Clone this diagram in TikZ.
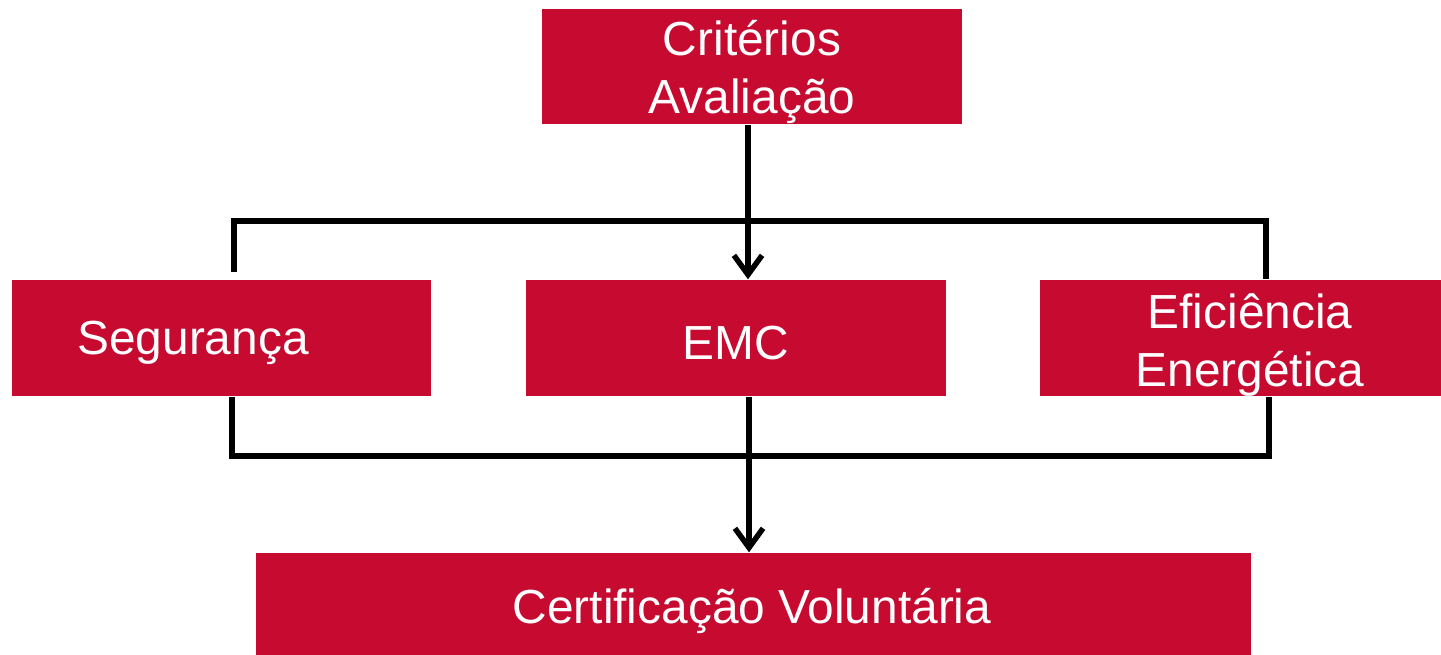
\documentclass[tikz,border=0pt]{standalone}
\usepackage{fontspec}
\setmainfont{Liberation Sans}
\usetikzlibrary{arrows.meta}
\definecolor{crim}{RGB}{198,10,48}
\begin{document}
\begin{tikzpicture}[x=0.01cm,y=-0.01cm,
  box/.style={fill=crim,draw=none,rectangle,inner sep=0pt},
  lbl/.style={text=white,font=\fontsize{13.6}{16.3}\selectfont,align=center,inner sep=0pt},
  conn/.style={line width=1.55pt,line join=miter},
  arr/.style={conn,-{Straight Barb[length=5.5pt,width=8pt,line width=1.55pt]}}]
\useasboundingbox (0,0) rectangle (1441,655);
% boxes
\node[box,minimum width=420*0.01cm,minimum height=115*0.01cm] (crit) at (752,67) {};
\node[lbl] (critt) at (752,72) {Critérios\\Avaliação};
\node[box,minimum width=419*0.01cm,minimum height=116*0.01cm] (seg) at (221.5,338) {};
\node[lbl] (segt) at (193,343) {Segurança};
\node[box,minimum width=420*0.01cm,minimum height=116*0.01cm] (emc) at (736,338) {};
\node[lbl] (emct) at (736,343) {EMC};
\node[box,minimum width=401*0.01cm,minimum height=116*0.01cm] (ef) at (1240.5,338) {};
\node[lbl] (eft) at (1250,345) {Eficiência\\Energética};
\node[box,minimum width=995*0.01cm,minimum height=102*0.01cm] (cert) at (753.5,604) {};
\node[lbl] (certt) at (752,611) {Certificação Voluntária};
% connectors
\coordinate (s1) at (234,272);
\coordinate (ttop) at (0,221);
\draw[conn] (s1) -- (s1 |- ttop) -- (ttop -| 1266,0) -- (ef.north -| 1266,0);
\draw[arr] (crit.south -| 748,0) -- (emc.north -| 748,0);
\coordinate (bb) at (0,456);
\draw[conn] (seg.south -| 232,0) -- (bb -| 232,0) -- (bb -| 1269,0) -- (ef.south -| 1269,0);
\draw[arr] (emc.south -| 749,0) -- (cert.north -| 749,0);
\end{tikzpicture}
\end{document}
